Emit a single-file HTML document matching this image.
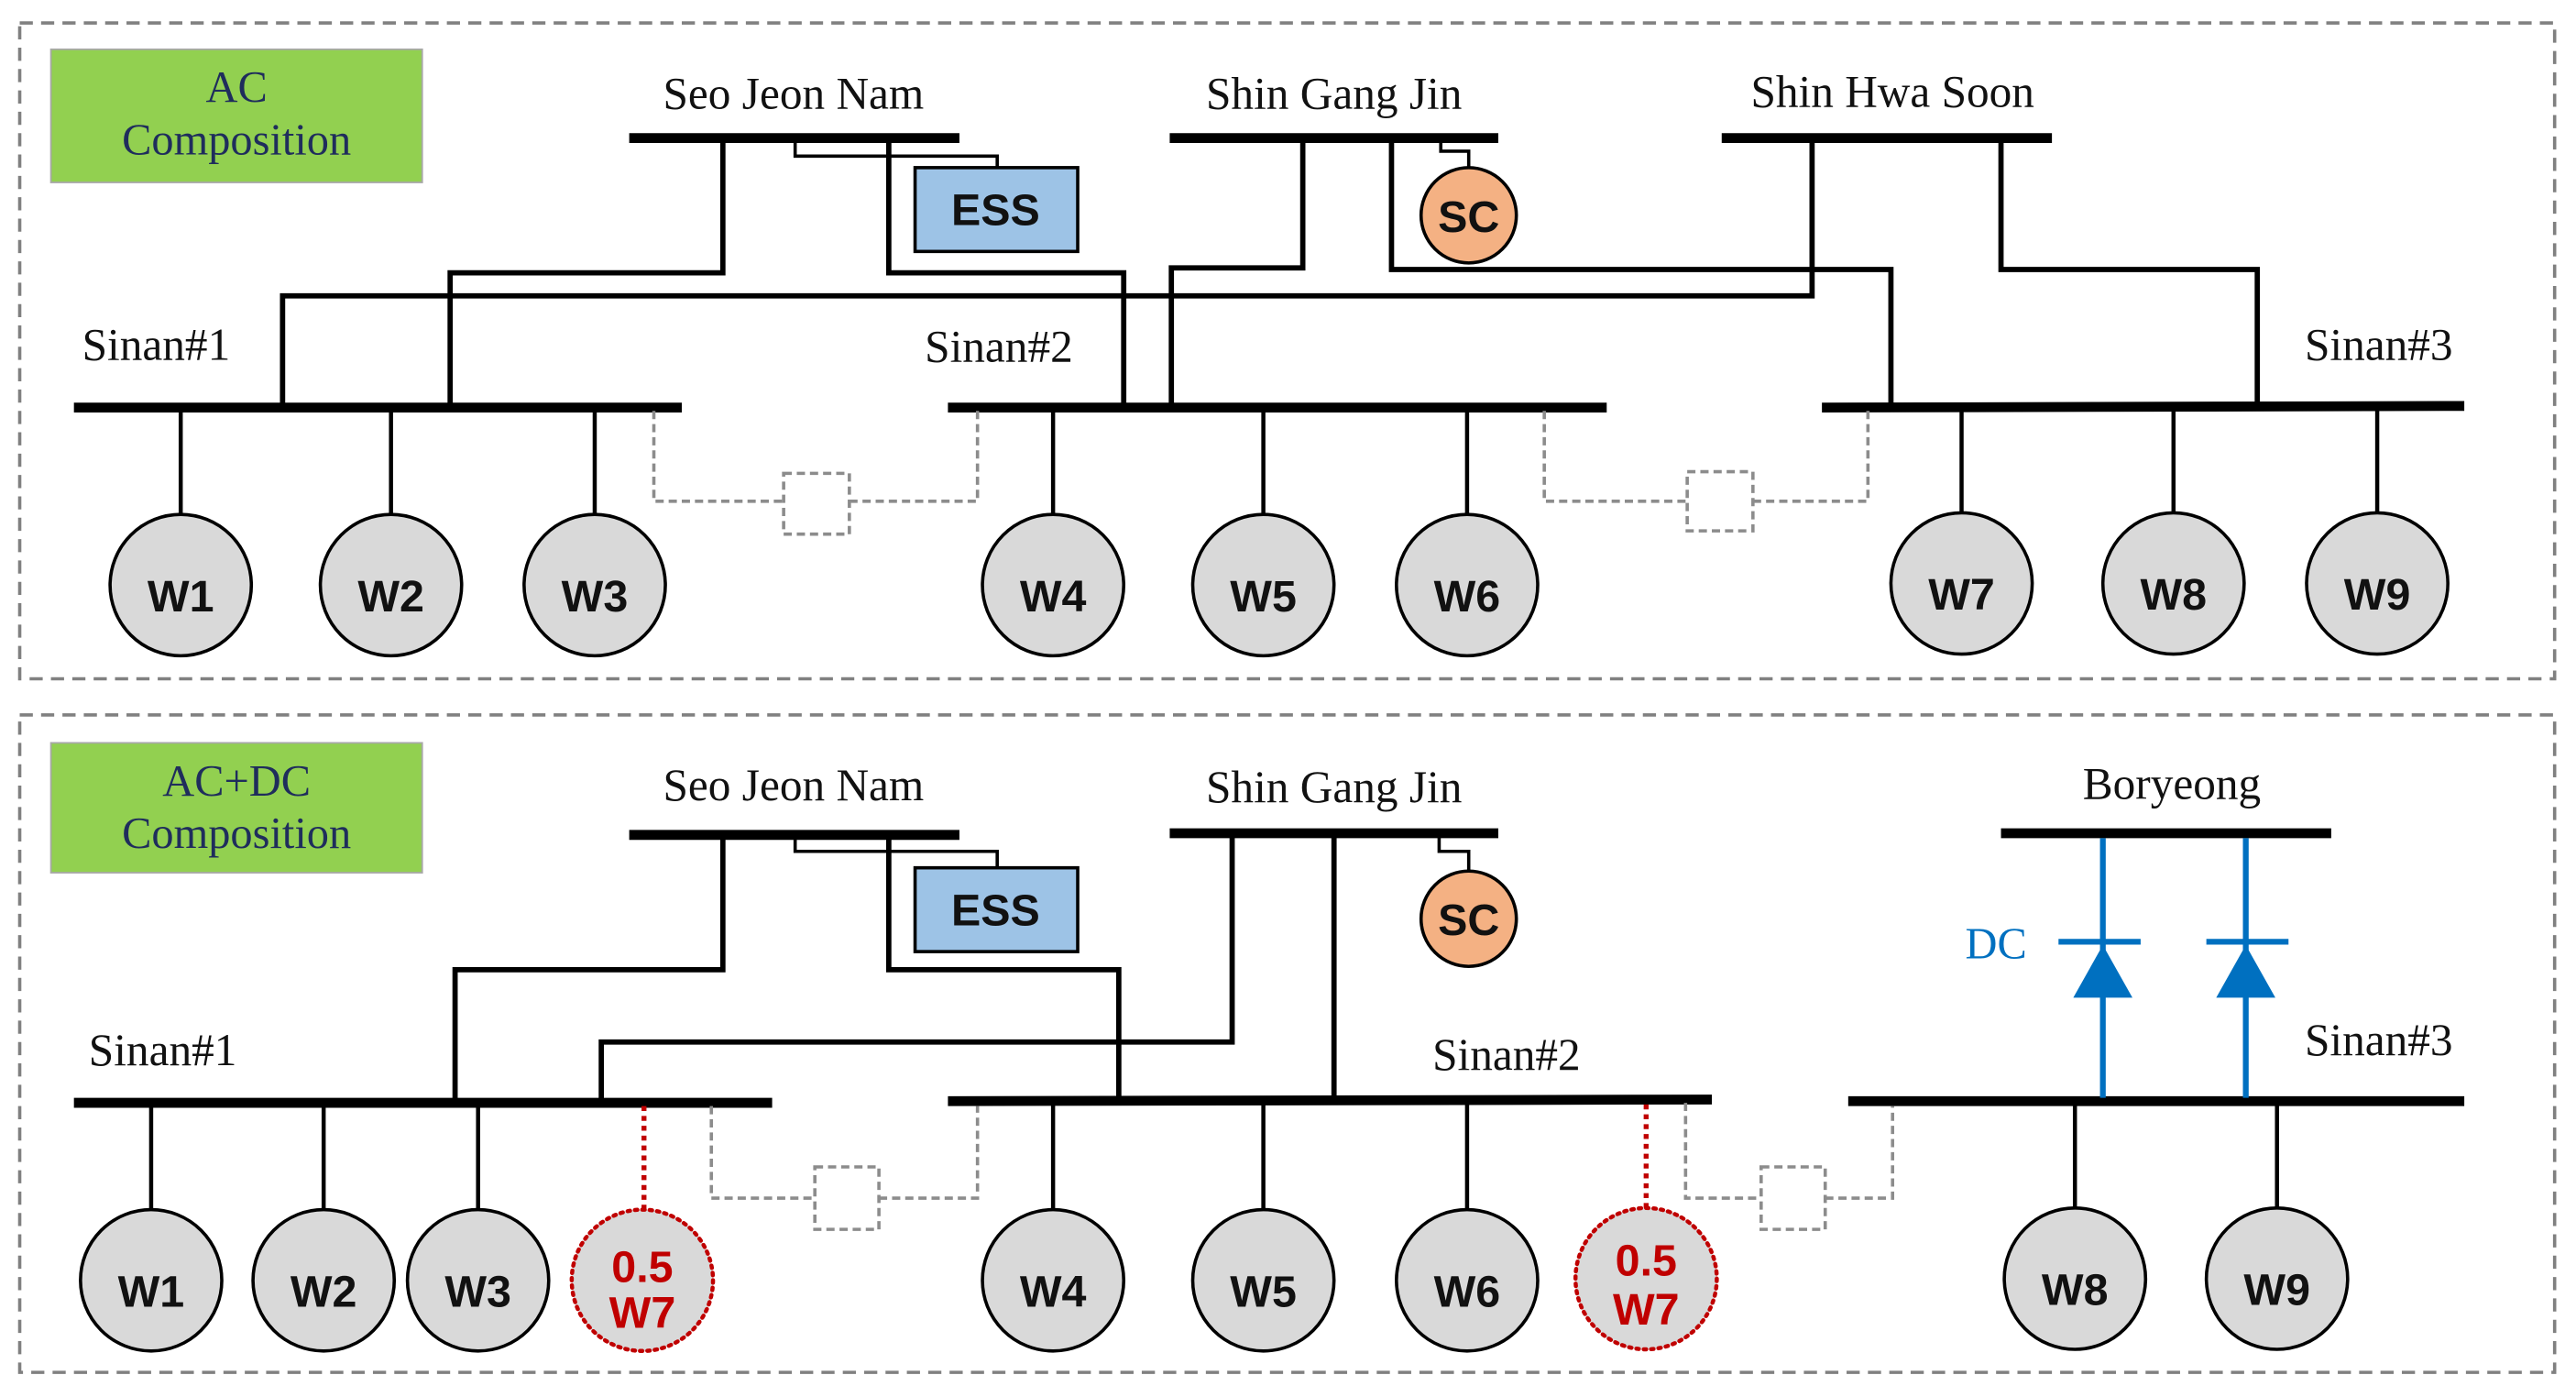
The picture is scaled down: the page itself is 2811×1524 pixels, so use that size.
<!DOCTYPE html>
<html><head><meta charset="utf-8"><style>
html,body{margin:0;padding:0;background:#fff;}
svg{display:block;}
.lbl{font-family:"Liberation Serif",serif;font-size:27.5px;fill:#111;}
.gen{font-family:"Liberation Sans",sans-serif;font-weight:bold;font-size:27px;fill:#111;}
.box{font-family:"Liberation Serif",serif;font-size:27px;fill:#1f2d5c;}
</style></head><body>
<svg width="2811" height="1524" viewBox="0 0 1568 850" preserveAspectRatio="none" xmlns="http://www.w3.org/2000/svg">
<rect x="0" y="0" width="1568" height="850" fill="#fff"/>
<rect x="12" y="14" width="1543" height="399" fill="none" stroke="#808080" stroke-width="2" stroke-dasharray="8,5"/>
<rect x="12" y="435" width="1543" height="400" fill="none" stroke="#808080" stroke-width="2" stroke-dasharray="8,5"/>

<rect x="31" y="30" width="226" height="81" fill="#92d050" stroke="#a8a8a8" stroke-width="1"/>
<text class="box" x="144" y="62" text-anchor="middle">AC</text>
<text class="box" x="144" y="94" text-anchor="middle">Composition</text>

<text class="lbl" x="483" y="66" text-anchor="middle">Seo Jeon Nam</text>
<text class="lbl" x="812" y="66" text-anchor="middle">Shin Gang Jin</text>
<text class="lbl" x="1152" y="65" text-anchor="middle">Shin Hwa Soon</text>

<g stroke="#000" stroke-width="6">
<line x1="383" y1="84" x2="584" y2="84"/>
<line x1="712" y1="84" x2="912" y2="84"/>
<line x1="1048" y1="84" x2="1249" y2="84"/>
<line x1="45" y1="248" x2="415" y2="248"/>
<line x1="577" y1="248" x2="978" y2="248"/>
<line x1="1109" y1="248" x2="1500" y2="247"/>
</g>
<g fill="none" stroke="#000" stroke-width="3.2">
<polyline points="440,84 440,166 274,166 274,248"/>
<polyline points="541,84 541,166 684,166 684,248"/>
<polyline points="172,248 172,180 1103,180 1103,84"/>
<polyline points="793,84 793,163 713,163 713,248"/>
<polyline points="847,84 847,164 1151,164 1151,248"/>
<polyline points="1218,84 1218,164 1374,164 1374,248"/>
</g>
<g fill="none" stroke="#000" stroke-width="2">
<polyline points="484,84 484,95 607,95 607,102"/>
<polyline points="877,84 877,92 894,92 894,102"/>
</g>
<rect x="557" y="102" width="99" height="51" fill="#9dc3e6" stroke="#000" stroke-width="2"/>
<text class="gen" x="606" y="137" text-anchor="middle">ESS</text>
<circle cx="894" cy="131" r="29" fill="#f4b183" stroke="#000" stroke-width="2"/>
<text class="gen" x="894" y="141" text-anchor="middle">SC</text>

<text class="lbl" x="50" y="219">Sinan#1</text>
<text class="lbl" x="608" y="220" text-anchor="middle">Sinan#2</text>
<text class="lbl" x="1493" y="219" text-anchor="end">Sinan#3</text>

<g fill="none" stroke="#8c8c8c" stroke-width="2" stroke-dasharray="5,3">
<polyline points="398,250 398,305 477,305"/>
<rect x="477" y="288" width="40" height="37"/>
<polyline points="517,305 595,305 595,250"/>
<polyline points="940,250 940,305 1027,305"/>
<rect x="1027" y="287" width="40" height="36"/>
<polyline points="1067,305 1137,305 1137,250"/>
</g>

<g stroke="#000" stroke-width="2.5">
<line x1="110" y1="248" x2="110" y2="313"/>
<line x1="238" y1="248" x2="238" y2="313"/>
<line x1="362" y1="248" x2="362" y2="313"/>
<line x1="641" y1="248" x2="641" y2="313"/>
<line x1="769" y1="248" x2="769" y2="313"/>
<line x1="893" y1="248" x2="893" y2="313"/>
<line x1="1194" y1="248" x2="1194" y2="313"/>
<line x1="1323" y1="248" x2="1323" y2="313"/>
<line x1="1447" y1="248" x2="1447" y2="313"/>
</g>
<g fill="#d9d9d9" stroke="#000" stroke-width="2">
<ellipse cx="110" cy="356" rx="43" ry="43"/>
<ellipse cx="238" cy="356" rx="43" ry="43"/>
<ellipse cx="362" cy="356" rx="43" ry="43"/>
<ellipse cx="641" cy="356" rx="43" ry="43"/>
<ellipse cx="769" cy="356" rx="43" ry="43"/>
<ellipse cx="893" cy="356" rx="43" ry="43"/>
<ellipse cx="1194" cy="355" rx="43" ry="43"/>
<ellipse cx="1323" cy="355" rx="43" ry="43"/>
<ellipse cx="1447" cy="355" rx="43" ry="43"/>
</g>
<g class="gen" text-anchor="middle">
<text x="110" y="372">W1</text><text x="238" y="372">W2</text><text x="362" y="372">W3</text>
<text x="641" y="372">W4</text><text x="769" y="372">W5</text><text x="893" y="372">W6</text>
<text x="1194" y="371">W7</text><text x="1323" y="371">W8</text><text x="1447" y="371">W9</text>
</g>

<rect x="31" y="452" width="226" height="79" fill="#92d050" stroke="#a8a8a8" stroke-width="1"/>
<text class="box" x="144" y="484" text-anchor="middle">AC+DC</text>
<text class="box" x="144" y="516" text-anchor="middle">Composition</text>

<text class="lbl" x="483" y="487" text-anchor="middle">Seo Jeon Nam</text>
<text class="lbl" x="812" y="488" text-anchor="middle">Shin Gang Jin</text>
<text class="lbl" x="1322" y="486" text-anchor="middle">Boryeong</text>

<g stroke="#000" stroke-width="6">
<line x1="383" y1="508" x2="584" y2="508"/>
<line x1="712" y1="507" x2="912" y2="507"/>
<line x1="1218" y1="507" x2="1419" y2="507"/>
<line x1="45" y1="671" x2="470" y2="671"/>
<line x1="577" y1="670" x2="1042" y2="669"/>
<line x1="1125" y1="670" x2="1500" y2="670"/>
</g>
<g fill="none" stroke="#000" stroke-width="3.2">
<polyline points="440,508 440,590 277,590 277,671"/>
<polyline points="541,508 541,590 681,590 681,670"/>
<polyline points="750,507 750,634 366,634 366,671"/>
<line x1="812" y1="507" x2="812" y2="669"/>
</g>
<g fill="none" stroke="#000" stroke-width="2">
<polyline points="484,508 484,518 607,518 607,528"/>
<polyline points="876,507 876,518 894,518 894,530"/>
</g>
<rect x="557" y="528" width="99" height="51" fill="#9dc3e6" stroke="#000" stroke-width="2"/>
<text class="gen" x="606" y="563" text-anchor="middle">ESS</text>
<circle cx="894" cy="559" r="29" fill="#f4b183" stroke="#000" stroke-width="2"/>
<text class="gen" x="894" y="569" text-anchor="middle">SC</text>

<text class="lbl" x="54" y="648">Sinan#1</text>
<text class="lbl" x="917" y="651" text-anchor="middle">Sinan#2</text>
<text class="lbl" x="1493" y="642" text-anchor="end">Sinan#3</text>

<g stroke="#0070c0" stroke-width="3.5">
<line x1="1280" y1="510" x2="1280" y2="668"/>
<line x1="1367" y1="510" x2="1367" y2="668"/>
<line x1="1253" y1="573" x2="1303" y2="573"/>
<line x1="1343" y1="573" x2="1393" y2="573"/>
</g>
<polygon points="1280,575 1262,607 1298,607" fill="#0070c0"/>
<polygon points="1367,575 1349,607 1385,607" fill="#0070c0"/>
<text x="1215" y="583" text-anchor="middle" style="font-family:'Liberation Serif',serif;font-size:27px;fill:#0070c0;">DC</text>

<g fill="none" stroke="#8c8c8c" stroke-width="2" stroke-dasharray="5,3">
<polyline points="433,673 433,729 496,729"/>
<rect x="496" y="710" width="39" height="38"/>
<polyline points="535,729 595,729 595,673"/>
<polyline points="1026,671 1026,729 1072,729"/>
<rect x="1072" y="710" width="39" height="38"/>
<polyline points="1111,729 1152,729 1152,673"/>
</g>

<g stroke="#000" stroke-width="2.5">
<line x1="92" y1="671" x2="92" y2="736"/>
<line x1="197" y1="671" x2="197" y2="736"/>
<line x1="291" y1="671" x2="291" y2="736"/>
<line x1="641" y1="670" x2="641" y2="736"/>
<line x1="769" y1="670" x2="769" y2="736"/>
<line x1="893" y1="670" x2="893" y2="736"/>
<line x1="1263" y1="670" x2="1263" y2="735"/>
<line x1="1386" y1="670" x2="1386" y2="735"/>
</g>
<g stroke="#c00000" stroke-width="3" stroke-dasharray="3,3">
<line x1="392" y1="673" x2="392" y2="736"/>
<line x1="1002" y1="672" x2="1002" y2="735"/>
</g>
<g fill="#d9d9d9" stroke="#000" stroke-width="2">
<ellipse cx="92" cy="779" rx="43" ry="43"/>
<ellipse cx="197" cy="779" rx="43" ry="43"/>
<ellipse cx="291" cy="779" rx="43" ry="43"/>
<ellipse cx="641" cy="779" rx="43" ry="43"/>
<ellipse cx="769" cy="779" rx="43" ry="43"/>
<ellipse cx="893" cy="779" rx="43" ry="43"/>
<ellipse cx="1263" cy="778" rx="43" ry="43"/>
<ellipse cx="1386" cy="778" rx="43" ry="43"/>
</g>
<g fill="#d9d9d9" stroke="#c00000" stroke-width="2.5" stroke-dasharray="1.5,3" stroke-linecap="round">
<ellipse cx="391" cy="779" rx="43" ry="43"/>
<ellipse cx="1002" cy="778" rx="43" ry="43"/>
</g>
<g class="gen" text-anchor="middle">
<text x="92" y="795">W1</text><text x="197" y="795">W2</text><text x="291" y="795">W3</text>
<text x="641" y="795">W4</text><text x="769" y="795">W5</text><text x="893" y="795">W6</text>
<text x="1263" y="794">W8</text><text x="1386" y="794">W9</text>
</g>
<g class="gen" text-anchor="middle" style="fill:#c00000">
<text x="391" y="780">0.5</text><text x="391" y="808">W7</text>
<text x="1002" y="776">0.5</text><text x="1002" y="806">W7</text>
</g>
</svg>
</body></html>
